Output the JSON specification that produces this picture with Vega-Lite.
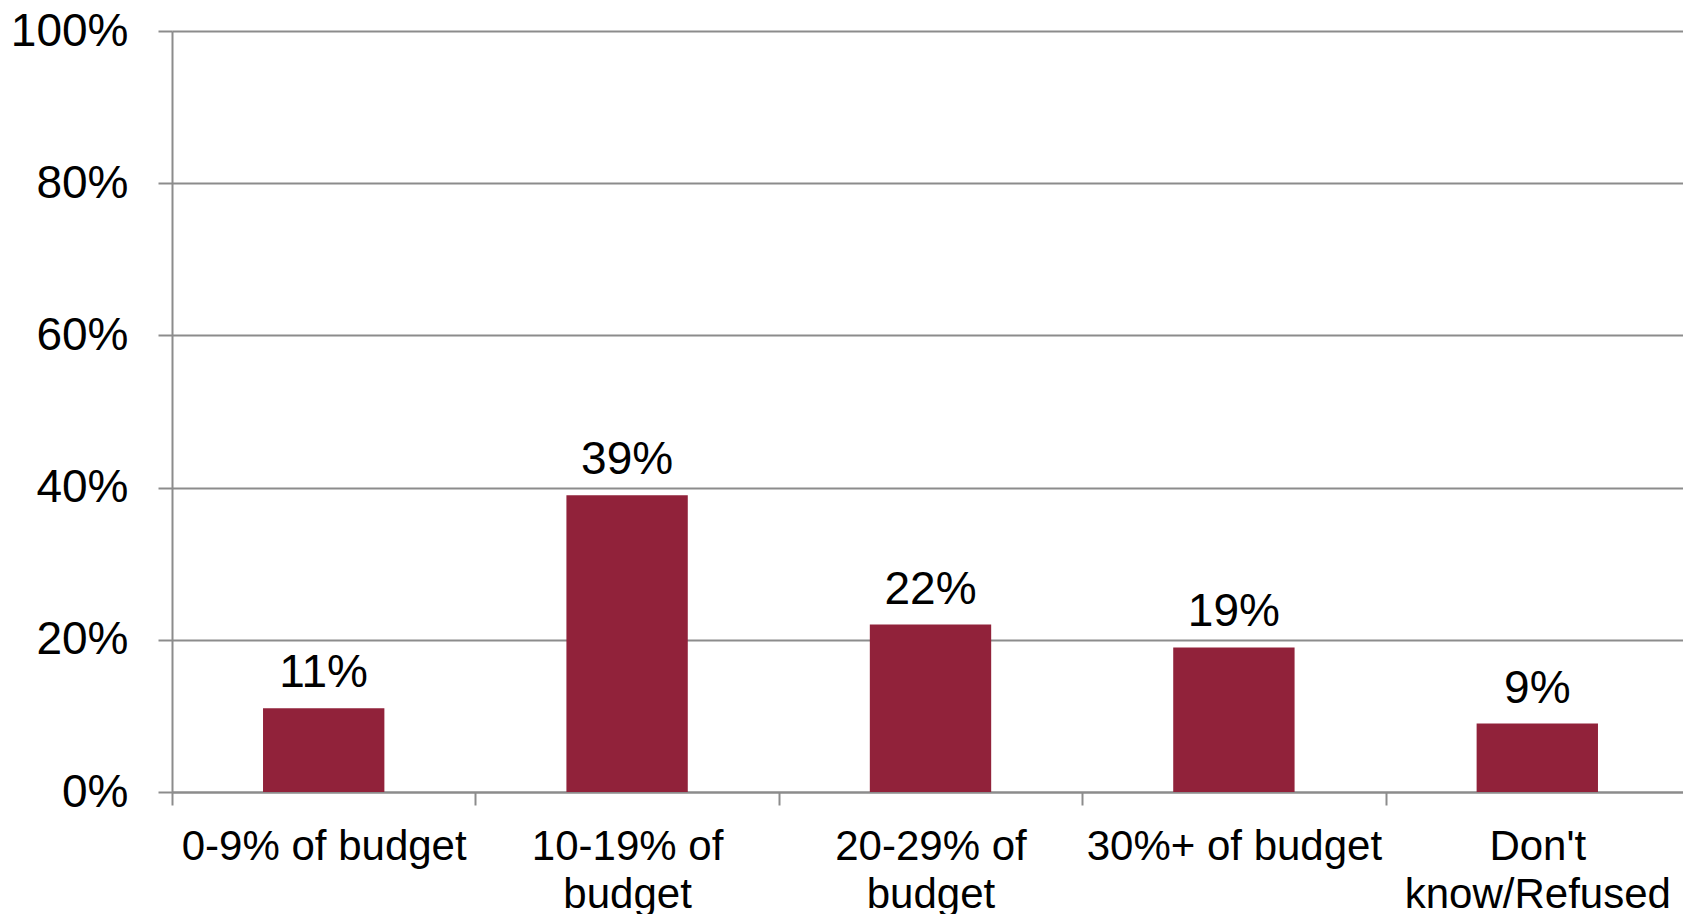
{
  "$schema": "https://vega.github.io/schema/vega-lite/v6.json",
  "autosize": {"type": "none"},
  "padding": {"left": 172, "top": 31, "right": 0, "bottom": 122},
  "width": 1511,
  "height": 761,
  "background": "white",
  "config": {
    "view": {"stroke": null},
    "font": "Liberation Sans"
  },
  "data": {
    "values": [
      {"category": "0-9% of budget", "value": 0.11},
      {"category": "10-19% of budget", "value": 0.39},
      {"category": "20-29% of budget", "value": 0.22},
      {"category": "30%+ of budget", "value": 0.19},
      {"category": "Don't know/Refused", "value": 0.09}
    ]
  },
  "encoding": {
    "x": {
      "field": "category",
      "type": "nominal",
      "sort": null,
      "scale": {"paddingInner": 0, "paddingOuter": 0, "range": [0, 1517]},
      "axis": {
        "title": null,
        "labelAngle": 0,
        "labelFont": "Liberation Sans",
        "labelFontSize": 42,
        "labelColor": "#000000",
        "labelPadding": 21,
        "labelLineHeight": 48,
        "labelExpr": "datum.label == '10-19% of budget' ? ['10-19% of', 'budget'] : datum.label == '20-29% of budget' ? ['20-29% of', 'budget'] : datum.label == \"Don't know/Refused\" ? [\"Don't\", 'know/Refused'] : datum.label",
        "tickBand": "extent",
        "tickSize": 13,
        "tickColor": "#8c8c8c",
        "tickWidth": 2,
        "domainColor": "#8c8c8c",
        "domainWidth": 2,
        "labelLimit": 400
      }
    },
    "y": {
      "field": "value",
      "type": "quantitative",
      "scale": {"domain": [0, 1]},
      "axis": {
        "title": null,
        "format": ".0%",
        "values": [0, 0.2, 0.4, 0.6, 0.8, 1],
        "labelFont": "Liberation Sans",
        "labelFontSize": 46,
        "labelColor": "#000000",
        "labelPadding": 30,
        "tickSize": 14,
        "tickColor": "#8c8c8c",
        "tickWidth": 2,
        "domainColor": "#8c8c8c",
        "domainWidth": 2,
        "grid": true,
        "gridColor": "#8c8c8c",
        "gridWidth": 2
      }
    }
  },
  "layer": [
    {
      "mark": {"type": "bar", "color": "#91223A", "width": {"band": 0.4}}
    },
    {
      "mark": {"type": "text", "baseline": "alphabetic", "dy": -21, "fontSize": 46, "font": "Liberation Sans", "color": "#000000"},
      "encoding": {
        "text": {"field": "value", "type": "quantitative", "format": ".0%"}
      }
    }
  ]
}
